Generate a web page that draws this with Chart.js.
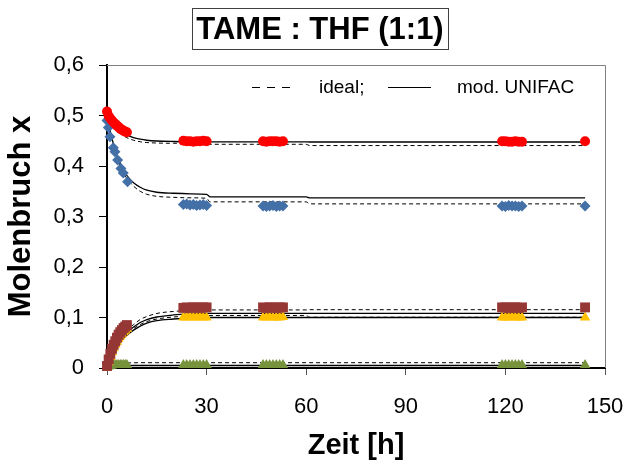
<!DOCTYPE html>
<html>
<head>
<meta charset="utf-8">
<script src="https://cdn.jsdelivr.net/npm/chart.js@4"></script>
<style>
  body { margin: 0; background: #fff; }
  canvas { display: block; }
</style>
</head>
<body>
<canvas id="chart" width="629" height="466"></canvas>
<script>
// Messwerte / Modellkurven (Zeit in h, Molenbruch x)
const chartTitle = 'TAME : THF (1:1)';
const legendLabels = ['ideal;', 'mod. UNIFAC'];
const xTickLabels = ['0', '30', '60', '90', '120', '150'];
const yTickLabels = ['0', '0,1', '0,2', '0,3', '0,4', '0,5', '0,6'];

const tEarly = [0, 0.5, 1, 1.5, 2, 2.5, 3, 3.5, 4, 4.5, 5, 5.5, 6];
const tBlueEarly = [0, 0.4, 0.9, 1.9, 2.4, 3.2, 4.2, 4.9, 6.2];
const tPlateau = [23, 24, 25, 26, 27, 28, 29, 30, 47, 48, 49, 50, 51, 52, 53, 119, 120, 121, 122, 123, 124, 125, 144];

const redEarly = [0.508, 0.499, 0.494, 0.490, 0.486, 0.483, 0.480, 0.477, 0.474, 0.472, 0.470, 0.468, 0.467];
const redPlateau = [0.450, 0.449, 0.449, 0.448, 0.449, 0.449, 0.450, 0.449, 0.449, 0.448, 0.449, 0.449, 0.449, 0.448, 0.449, 0.449, 0.449, 0.448, 0.448, 0.449, 0.448, 0.448, 0.449];
const blueEarly = [0.490, 0.476, 0.458, 0.436, 0.428, 0.412, 0.395, 0.386, 0.369];
const bluePlateau = [0.324, 0.325, 0.323, 0.324, 0.322, 0.323, 0.324, 0.322, 0.321, 0.320, 0.321, 0.322, 0.320, 0.321, 0.321, 0.321, 0.320, 0.322, 0.321, 0.321, 0.320, 0.321, 0.321];
const brownEarly = [0.004, 0.017, 0.028, 0.038, 0.046, 0.053, 0.060, 0.066, 0.071, 0.075, 0.079, 0.082, 0.085];
const brownPlateau = [0.119, 0.120, 0.119, 0.120, 0.120, 0.119, 0.120, 0.120, 0.120, 0.119, 0.120, 0.120, 0.119, 0.120, 0.120, 0.120, 0.120, 0.119, 0.120, 0.120, 0.119, 0.120, 0.120];
const yellowEarly = [0.000, 0.012, 0.022, 0.031, 0.039, 0.046, 0.052, 0.058, 0.063, 0.067, 0.071, 0.074, 0.077];
const yellowPlateau = [0.100, 0.100, 0.101, 0.100, 0.100, 0.101, 0.100, 0.100, 0.100, 0.100, 0.101, 0.100, 0.100, 0.100, 0.101, 0.100, 0.100, 0.100, 0.101, 0.100, 0.100, 0.100, 0.100];
const greenEarly = [0.001, 0.003, 0.004, 0.005, 0.006, 0.006, 0.006, 0.006, 0.006, 0.006, 0.006, 0.006, 0.006];
const greenPlateau = [0.006, 0.006, 0.006, 0.006, 0.006, 0.006, 0.006, 0.006, 0.006, 0.006, 0.006, 0.006, 0.006, 0.006, 0.006, 0.006, 0.006, 0.006, 0.006, 0.006, 0.006, 0.006, 0.006];

// Modellkurven
const tModel = [0, 1, 2, 3, 4, 5, 6, 8, 10, 12, 15, 20, 25, 30, 31, 60, 61, 144];
const redUnifac = [0.500, 0.489, 0.481, 0.474, 0.468, 0.464, 0.461, 0.456, 0.453, 0.451, 0.4495, 0.4485, 0.448, 0.448, 0.4478, 0.4478, 0.4475, 0.4475];
const redIdeal = [0.500, 0.488, 0.479, 0.471, 0.465, 0.460, 0.456, 0.451, 0.448, 0.4465, 0.4455, 0.445, 0.445, 0.445, 0.443, 0.443, 0.4405, 0.4405];
const blueUnifac = [0.500, 0.468, 0.442, 0.422, 0.405, 0.392, 0.381, 0.367, 0.358, 0.352, 0.348, 0.346, 0.345, 0.344, 0.339, 0.339, 0.337, 0.337];
const blueIdeal = [0.500, 0.466, 0.439, 0.417, 0.400, 0.386, 0.375, 0.360, 0.350, 0.344, 0.340, 0.338, 0.337, 0.336, 0.329, 0.329, 0.325, 0.325];
const brownIdeal = [0, 0.019, 0.035, 0.048, 0.059, 0.068, 0.075, 0.086, 0.096, 0.102, 0.108, 0.112, 0.114, 0.115, 0.115, 0.115, 0.1155, 0.1155];
const brownUnifac = [0, 0.018, 0.033, 0.045, 0.055, 0.064, 0.071, 0.081, 0.090, 0.096, 0.101, 0.105, 0.107, 0.108, 0.108, 0.108, 0.108, 0.108];
const yellowIdeal = [0, 0.017, 0.031, 0.043, 0.053, 0.061, 0.068, 0.078, 0.086, 0.092, 0.097, 0.101, 0.103, 0.104, 0.104, 0.104, 0.1005, 0.1005];
const yellowUnifac = [0, 0.016, 0.030, 0.041, 0.051, 0.059, 0.065, 0.075, 0.083, 0.089, 0.094, 0.097, 0.099, 0.100, 0.100, 0.100, 0.100, 0.100];
const greenIdeal = [0, 0.004, 0.0065, 0.008, 0.009, 0.0095, 0.010, 0.0103, 0.0105, 0.0105, 0.0105, 0.0105, 0.0105, 0.0105, 0.0105, 0.0105, 0.0105, 0.0105];
const greenUnifac = [0, 0.002, 0.0032, 0.004, 0.0045, 0.0048, 0.005, 0.005, 0.005, 0.005, 0.005, 0.005, 0.005, 0.005, 0.005, 0.005, 0.005, 0.005];

const FONT = '"Liberation Sans", Arial, sans-serif';

const toPoints = (ts, vs) => ts.map((t, i) => ({ x: t, y: vs[i] }));

const markers = (ts, vs, color, style, r) => ({
  data: toPoints(ts, vs),
  showLine: false,
  pointStyle: style,
  pointRadius: r,
  pointBackgroundColor: color,
  pointBorderColor: color,
  pointBorderWidth: 0,
  clip: false,
  order: 0
});

const curve = (vs, dashed) => ({
  data: toPoints(tModel, vs),
  showLine: true,
  pointRadius: 0,
  borderColor: '#000',
  borderWidth: dashed ? 1 : 1.3,
  borderDash: dashed ? [4, 3] : [],
  cubicInterpolationMode: 'monotone',
  order: 1
});

// Titel, Legende und Rahmen der Zeichenfläche
const decor = {
  id: 'decor',
  beforeDatasetsDraw(chart) {
    const { ctx, chartArea: a } = chart;
    ctx.save();
    ctx.strokeStyle = '#808080';
    ctx.lineWidth = 1;
    ctx.beginPath();
    ctx.moveTo(a.left, a.top + 0.5);
    ctx.lineTo(a.right + 0.5, a.top + 0.5);
    ctx.lineTo(a.right + 0.5, a.bottom);
    ctx.stroke();
    ctx.restore();
  },
  afterDraw(chart) {
    const ctx = chart.ctx;
    ctx.save();
    // Titel mit Kasten
    ctx.strokeStyle = '#404040';
    ctx.lineWidth = 1;
    ctx.strokeRect(192.5, 8.5, 256, 41);
    ctx.fillStyle = '#000';
    ctx.font = 'bold 31px ' + FONT;
    ctx.textAlign = 'center';
    ctx.textBaseline = 'alphabetic';
    ctx.fillText(chartTitle, 320, 39);

    // Legende
    ctx.strokeStyle = '#000';
    ctx.lineWidth = 1;
    ctx.setLineDash([8, 7]);
    ctx.beginPath();
    ctx.moveTo(252, 87.5);
    ctx.lineTo(293, 87.5);
    ctx.stroke();
    ctx.setLineDash([]);
    ctx.beginPath();
    ctx.moveTo(388, 87.5);
    ctx.lineTo(431, 87.5);
    ctx.stroke();
    ctx.font = '19px ' + FONT;
    ctx.textAlign = 'left';
    ctx.fillText(legendLabels[0], 319, 93);
    ctx.fillText(legendLabels[1], 457, 93);
    ctx.restore();
  }
};

new Chart(document.getElementById('chart'), {
  type: 'scatter',
  data: {
    datasets: [
      markers(tEarly.concat(tPlateau), redEarly.concat(redPlateau), '#ff0000', 'circle', 5),
      markers(tBlueEarly.concat(tPlateau), blueEarly.concat(bluePlateau), '#4470a8', 'rectRot', 5.5),
      markers(tEarly.concat(tPlateau), brownEarly.concat(brownPlateau), '#953735', 'rect', 7),
      markers(tEarly.concat(tPlateau), yellowEarly.concat(yellowPlateau), '#ffc000', 'triangle', 6),
      markers(tEarly.concat(tPlateau), greenEarly.concat(greenPlateau), '#77933c', 'triangle', 6),
      curve(redIdeal, true),
      curve(redUnifac, false),
      curve(blueIdeal, true),
      curve(blueUnifac, false),
      curve(brownIdeal, true),
      curve(brownUnifac, false),
      curve(yellowIdeal, true),
      curve(yellowUnifac, false),
      curve(greenIdeal, true),
      curve(greenUnifac, false)
    ]
  },
  options: {
    responsive: false,
    animation: false,
    layout: { padding: { left: 0, top: 65, right: 24, bottom: 0 } },
    plugins: {
      legend: { display: false },
      tooltip: { enabled: false }
    },
    scales: {
      x: {
        type: 'linear',
        min: 0,
        max: 150,
        afterFit: (scale) => {
          scale.height = 98;
          scale.paddingLeft = 0;
          scale.paddingRight = 0;
        },
        ticks: {
          stepSize: 30,
          padding: 19,
          color: '#000',
          font: { family: FONT, size: 22 },
          callback: (v, i) => xTickLabels[i]
        },
        grid: { drawOnChartArea: false, drawTicks: true, tickLength: 7, color: '#555' },
        border: { color: '#000', width: 2 },
        title: {
          display: true,
          text: 'Zeit [h]',
          color: '#000',
          font: { family: FONT, size: 29, weight: 'bold' },
          padding: { top: 0, bottom: 3 }
        }
      },
      y: {
        min: 0,
        max: 0.6,
        afterFit: (scale) => {
          scale.width = 107;
          scale.paddingTop = 0;
          scale.paddingBottom = 0;
        },
        ticks: {
          stepSize: 0.1,
          padding: 15,
          color: '#000',
          font: { family: FONT, size: 22 },
          callback: (v, i) => yTickLabels[i]
        },
        grid: { drawOnChartArea: false, drawTicks: true, tickLength: 8, color: '#000' },
        border: { color: '#000', width: 2 },
        title: {
          display: true,
          text: 'Molenbruch x',
          color: '#000',
          font: { family: FONT, size: 31, weight: 'bold' },
          padding: { top: 3, bottom: 0 }
        }
      }
    }
  },
  plugins: [decor]
});
</script>
</body>
</html>
